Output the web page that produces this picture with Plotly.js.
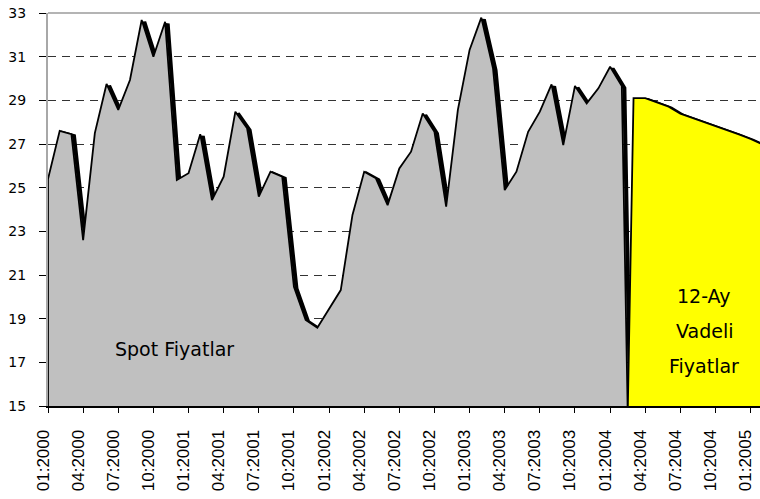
<!DOCTYPE html>
<html>
<head>
<meta charset="utf-8">
<script src="https://cdn.plot.ly/plotly-3.0.1.min.js"></script>
<style>html,body{margin:0;padding:0;background:#fff;}#chart{width:760px;height:499px;}</style>
</head>
<body>
<div id="chart"></div>
<script>
const months = ["01:2000","02:2000","03:2000","04:2000","05:2000","06:2000","07:2000","08:2000","09:2000","10:2000","11:2000","12:2000",
"01:2001","02:2001","03:2001","04:2001","05:2001","06:2001","07:2001","08:2001","09:2001","10:2001","11:2001","12:2001",
"01:2002","02:2002","03:2002","04:2002","05:2002","06:2002","07:2002","08:2002","09:2002","10:2002","11:2002","12:2002",
"01:2003","02:2003","03:2003","04:2003","05:2003","06:2003","07:2003","08:2003","09:2003","10:2003","11:2003","12:2003",
"01:2004","02:2004","03:2004","04:2004","05:2004","06:2004","07:2004","08:2004","09:2004","10:2004","11:2004","12:2004",
"01:2005","02:2005"];

const tickLabels = ["01:2000","04:2000","07:2000","10:2000","01:2001","04:2001","07:2001","10:2001","01:2002","04:2002",
"07:2002","10:2002","01:2003","04:2003","07:2003","10:2003","01:2004","04:2004","07:2004","10:2004","01:2005"];

// Spot prices, 01:2000 .. 02:2004
const spotMonths = months.slice(0, 50);
const spotPrices = [25.4,27.6,27.45,22.6,27.5,29.75,28.56,29.93,32.68,31.0,32.6,25.35,
25.66,27.45,24.43,25.5,28.48,27.72,24.59,25.73,25.5,20.46,18.94,18.59,
19.44,20.31,23.75,25.73,25.43,24.2,25.88,26.65,28.4,27.56,24.13,28.56,
31.31,32.79,30.47,24.89,25.73,27.56,28.48,29.73,26.95,29.66,28.86,29.55,
30.54,29.65];

// 12-month forward prices, 03:2004 .. 02:2005
const fwdMonths = months.slice(50);
const fwdPrices = [29.1,29.1,28.92,28.71,28.39,28.2,28.02,27.84,27.66,27.44,27.23,26.99];

const idx = m => months.indexOf(m);

// Excel-style area: blank months drop to zero
const spotX = [idx(spotMonths[0])].concat(spotMonths.map(idx), [idx(fwdMonths[0])]);
const spotY = [0].concat(spotPrices, [0]);
const fwdX = [idx(spotMonths[spotMonths.length-1])].concat(fwdMonths.map(idx));
const fwdY = [0].concat(fwdPrices);

const sdx = 0.22, sdy = -0.09;
const shadow = (xs, ys) => ({
  x: xs.map(v => v + sdx), y: ys.map(v => v + sdy),
  type: 'scatter', mode: 'lines', line: {color: '#000', width: 4},
  hoverinfo: 'skip'
});

const traces = [
  shadow(spotX, spotY),
  {x: spotX, y: spotY, type: 'scatter', mode: 'lines', fill: 'tozeroy',
   fillcolor: '#C0C0C0', line: {color: '#000', width: 1.8}},
  shadow(fwdX, fwdY),
  {x: fwdX, y: fwdY, type: 'scatter', mode: 'lines', fill: 'tozeroy',
   fillcolor: '#FFFF00', line: {color: '#000', width: 1.8}}
];

const annFont = {family: 'DejaVu Sans, Verdana, sans-serif', size: 19, color: '#000'};
const layout = {
  width: 760, height: 499,
  margin: {l: 48, r: 0, t: 13, b: 93, pad: 0},
  paper_bgcolor: '#fff', plot_bgcolor: '#fff',
  showlegend: false,
  xaxis: {
    type: 'linear', range: [0, 60.8],
    tickmode: 'array', tickvals: tickLabels.map(idx), ticktext: tickLabels,
    tickangle: -90, ticks: 'outside', ticklen: 5, tickcolor: '#000', tickwidth: 1,
    showline: true, linecolor: '#000', linewidth: 2,
    showgrid: false, zeroline: false,
    ticklabelstandoff: 10, ticklabelshift: -5,
    tickfont: {family: 'Liberation Sans, Arial, sans-serif', size: 17, color: '#000'}
  },
  yaxis: {
    range: [15, 33], tick0: 15, dtick: 2,
    ticks: 'outside', ticklen: 7, tickcolor: '#000', tickwidth: 1,
    showline: true, linecolor: '#a8a8a8', linewidth: 2, layer: 'below traces',
    showgrid: true, gridcolor: '#333', gridwidth: 1, griddash: '8px,6px',
    zeroline: false, ticklabelstandoff: 10,
    tickfont: {family: 'DejaVu Sans, Verdana, sans-serif', size: 14, color: '#000'}
  },
  shapes: [
    {type: 'line', xref: 'paper', yref: 'paper', x0: 0, x1: 1, y0: 1, y1: 1,
     line: {color: '#b4b4b4', width: 2}}
  ],
  annotations: [
    {text: 'Spot Fiyatlar', xref: 'paper', yref: 'paper', x: 0.1774, y: 0.145, showarrow: false, font: annFont, xanchor: 'center', yanchor: 'middle'},
    {text: '12-Ay', xref: 'paper', yref: 'paper', x: 0.9215, y: 0.28, showarrow: false, font: annFont, xanchor: 'center', yanchor: 'middle'},
    {text: 'Vadeli', xref: 'paper', yref: 'paper', x: 0.9215, y: 0.192, showarrow: false, font: annFont, xanchor: 'center', yanchor: 'middle'},
    {text: 'Fiyatlar', xref: 'paper', yref: 'paper', x: 0.9215, y: 0.102, showarrow: false, font: annFont, xanchor: 'center', yanchor: 'middle'}
  ]
};

Plotly.newPlot('chart', traces, layout, {displayModeBar: false, staticPlot: true});
</script>
</body>
</html>
